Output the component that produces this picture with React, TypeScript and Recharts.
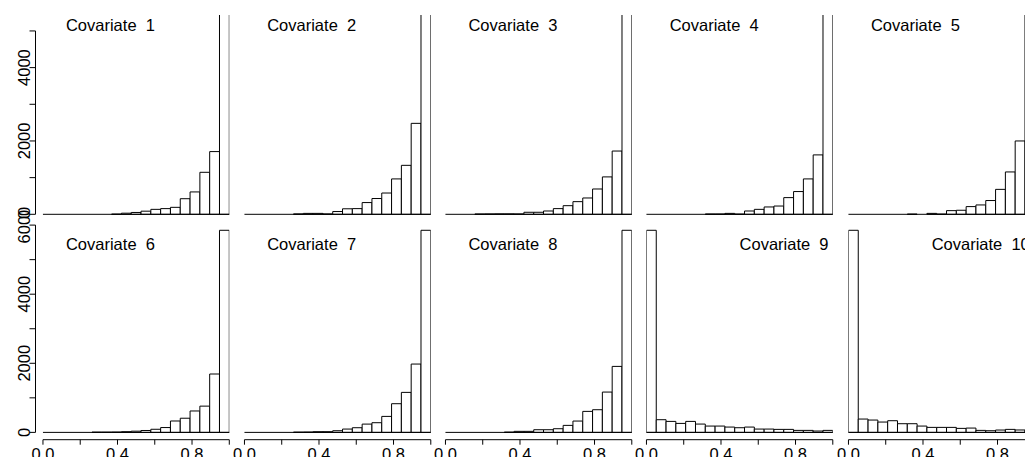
import { Bar, BarChart, ReferenceLine, XAxis, YAxis } from "recharts";

// 19 equal bins on [0, 1], placed at their midpoints
const BIN_MIDS = [
  0.02632, 0.07895, 0.13158, 0.18421, 0.23684, 0.28947, 0.34211, 0.39474, 0.44737, 0.5,
  0.55263, 0.60526, 0.65789, 0.71053, 0.76316, 0.81579, 0.86842, 0.92105, 0.97368,
];

const COV_1 = [0, 0, 0, 0, 0, 0, 0, 5, 30, 50, 85, 135, 155, 190, 425, 610, 1145, 1710, 5850];
const COV_2 = [0, 0, 0, 0, 0, 10, 25, 25, 10, 75, 150, 155, 320, 430, 580, 965, 1335, 2480, 5850];
const COV_3 = [0, 0, 0, 8, 10, 12, 12, 10, 55, 55, 90, 155, 235, 345, 445, 690, 1020, 1725, 5850];
const COV_4 = [0, 0, 0, 0, 0, 0, 8, 8, 25, 5, 90, 135, 200, 225, 455, 620, 965, 1620, 5850];
const COV_5 = [0, 0, 0, 0, 0, 0, 5, 0, 25, 5, 100, 110, 210, 255, 375, 680, 1155, 2000, 5850];
const COV_6 = [0, 0, 0, 0, 0, 8, 8, 10, 20, 35, 55, 90, 140, 330, 410, 620, 760, 1690, 5850];
const COV_7 = [0, 0, 0, 0, 0, 8, 10, 20, 20, 48, 96, 135, 240, 280, 463, 830, 1158, 1978, 5850];
const COV_8 = [0, 0, 0, 0, 0, 0, 8, 30, 30, 77, 77, 106, 203, 328, 608, 656, 1167, 1910, 5850];
const COV_9 = [5850, 367, 318, 260, 318, 241, 183, 183, 154, 135, 154, 96, 96, 87, 87, 58, 58, 39, 58];
const COV_10 = [5850, 386, 357, 299, 338, 251, 251, 183, 145, 145, 145, 116, 125, 58, 48, 68, 87, 70, 60];

const SERIES = [COV_1, COV_2, COV_3, COV_4, COV_5, COV_6, COV_7, COV_8, COV_9, COV_10];
const TITLES = [
  "Covariate  1", "Covariate  2", "Covariate  3", "Covariate  4", "Covariate  5",
  "Covariate  6", "Covariate  7", "Covariate  8", "Covariate  9", "Covariate  10",
];
// panels whose title sits on the right (tall bar on the left)
const RIGHT_TITLES = [8, 9];

const X_TICKS = [0, 0.2, 0.4, 0.6, 0.8, 1];
const X_LABELS = ["0.0", "", "0.4", "", "0.8", ""];
const Y_TICKS_TOP = [0, 1000, 2000, 3000, 4000, 5000];
const Y_TICKS_BOTTOM = [0, 1000, 2000, 3000, 4000, 5000, 6000];
const Y_LABELED = [0, 2000, 4000, 6000];

const FONT = '"Liberation Sans", Arial, Helvetica, sans-serif';
const FS = 16.5;
const AXIS_X = 35.5;
const CELL_W = 201.25;
const PAD_X = 7.45;
const PLOT_W = CELL_W - 2 * PAD_X;
const X_AXIS_H = 40;

const ROWS = [
  { top: 15, zero: 214.3, bottom: 222.3, per1000: 36.67, ticks: Y_TICKS_TOP, clip: true, titleY: 30.5 },
  { top: 222.3, zero: 432.7, bottom: 440, per1000: 34.55, ticks: Y_TICKS_BOTTOM, clip: false, titleY: 250 },
];

function XTick(props: any) {
  const { x, payload, axisY } = props;
  const i = X_TICKS.indexOf(payload.value);
  const label = i >= 0 ? X_LABELS[i] : "";
  return (
    <g>
      <line x1={x} x2={x} y1={axisY} y2={axisY + 5} stroke="#000" />
      {label && (
        <text x={x} y={axisY + 20} textAnchor="middle" fontFamily={FONT} fontSize={FS} fill="#000">
          {label}
        </text>
      )}
    </g>
  );
}

function YTick(props: any) {
  const { y, payload, maxTick, perUnit } = props;
  const v = payload.value;
  return (
    <g>
      <line x1={AXIS_X - 6} x2={AXIS_X} y1={y} y2={y} stroke="#000" />
      {v === maxTick && (
        <line x1={AXIS_X} x2={AXIS_X} y1={y} y2={y + maxTick * perUnit} stroke="#000" />
      )}
      {Y_LABELED.includes(v) && (
        <text
          transform={`translate(${AXIS_X - 6},${y}) rotate(-90)`}
          textAnchor="middle"
          fontFamily={FONT}
          fontSize={FS}
          fill="#000"
        >
          {v}
        </text>
      )}
    </g>
  );
}

function Panel({ index }: { index: number }) {
  const row = Math.floor(index / 5);
  const col = index % 5;
  const r = ROWS[row];
  const perUnit = r.per1000 / 1000;
  const lo = -(r.bottom - r.zero) / perUnit;
  const hi = (r.zero - r.top) / perUnit;
  const plotH = r.bottom - r.top;
  const showX = row === 1;
  const showY = col === 0;
  const left = showY ? 0 : AXIS_X + CELL_W * col;
  const width = showY ? AXIS_X + CELL_W : CELL_W;
  const values = SERIES[index];
  const data = BIN_MIDS.map((mid, i) => ({ mid, count: values[i] }));
  const maxTick = r.ticks[r.ticks.length - 1];

  return (
    <div style={{ position: "absolute", left, top: r.top }}>
      <BarChart
        width={width}
        height={plotH + (showX ? X_AXIS_H : 0)}
        data={data}
        margin={{ top: 0, right: PAD_X, bottom: 0, left: showY ? 0 : PAD_X }}
        barCategoryGap={0}
        barGap={0}
      >
        <XAxis
          dataKey="mid"
          type="number"
          domain={[0, 1]}
          allowDataOverflow
          ticks={X_TICKS}
          interval={0}
          hide={!showX}
          height={X_AXIS_H}
          axisLine={{ stroke: "#000" }}
          tickLine={false}
          tick={<XTick axisY={plotH} />}
        />
        <YAxis
          domain={[lo, hi]}
          allowDataOverflow={r.clip}
          ticks={r.ticks}
          interval={0}
          hide={!showY}
          width={AXIS_X + PAD_X}
          axisLine={false}
          tickLine={false}
          tick={<YTick maxTick={maxTick} perUnit={perUnit} />}
        />
        <ReferenceLine y={0} stroke="#000" />
        <Bar
          dataKey="count"
          fill="#fff"
          stroke="#000"
          strokeWidth={1}
          barSize={PLOT_W / 19 - 0.005}
          isAnimationActive={false}
        />
      </BarChart>
    </div>
  );
}

export default function App() {
  return (
    <div
      style={{
        position: "absolute",
        left: 0,
        top: 0,
        width: 1025,
        height: 457,
        overflow: "hidden",
        background: "#fff",
      }}
    >
      <style>{".recharts-surface { overflow: visible; }"}</style>
      {SERIES.map((_, i) => (
        <Panel key={i} index={i} />
      ))}
      <svg
        width={1025}
        height={457}
        style={{ position: "absolute", left: 0, top: 0, pointerEvents: "none" }}
      >
        {TITLES.map((t, i) => {
          const row = Math.floor(i / 5);
          const col = i % 5;
          const zeroX = AXIS_X + CELL_W * col + PAD_X;
          const right = RIGHT_TITLES.includes(i);
          return (
            <text
              key={t}
              x={right ? zeroX + PLOT_W - 4.5 : zeroX + 23}
              y={ROWS[row].titleY}
              textAnchor={right ? "end" : "start"}
              fontFamily={FONT}
              fontSize={FS}
              fill="#000"
              style={{ whiteSpace: "pre" }}
            >
              {t}
            </text>
          );
        })}
      </svg>
    </div>
  );
}
